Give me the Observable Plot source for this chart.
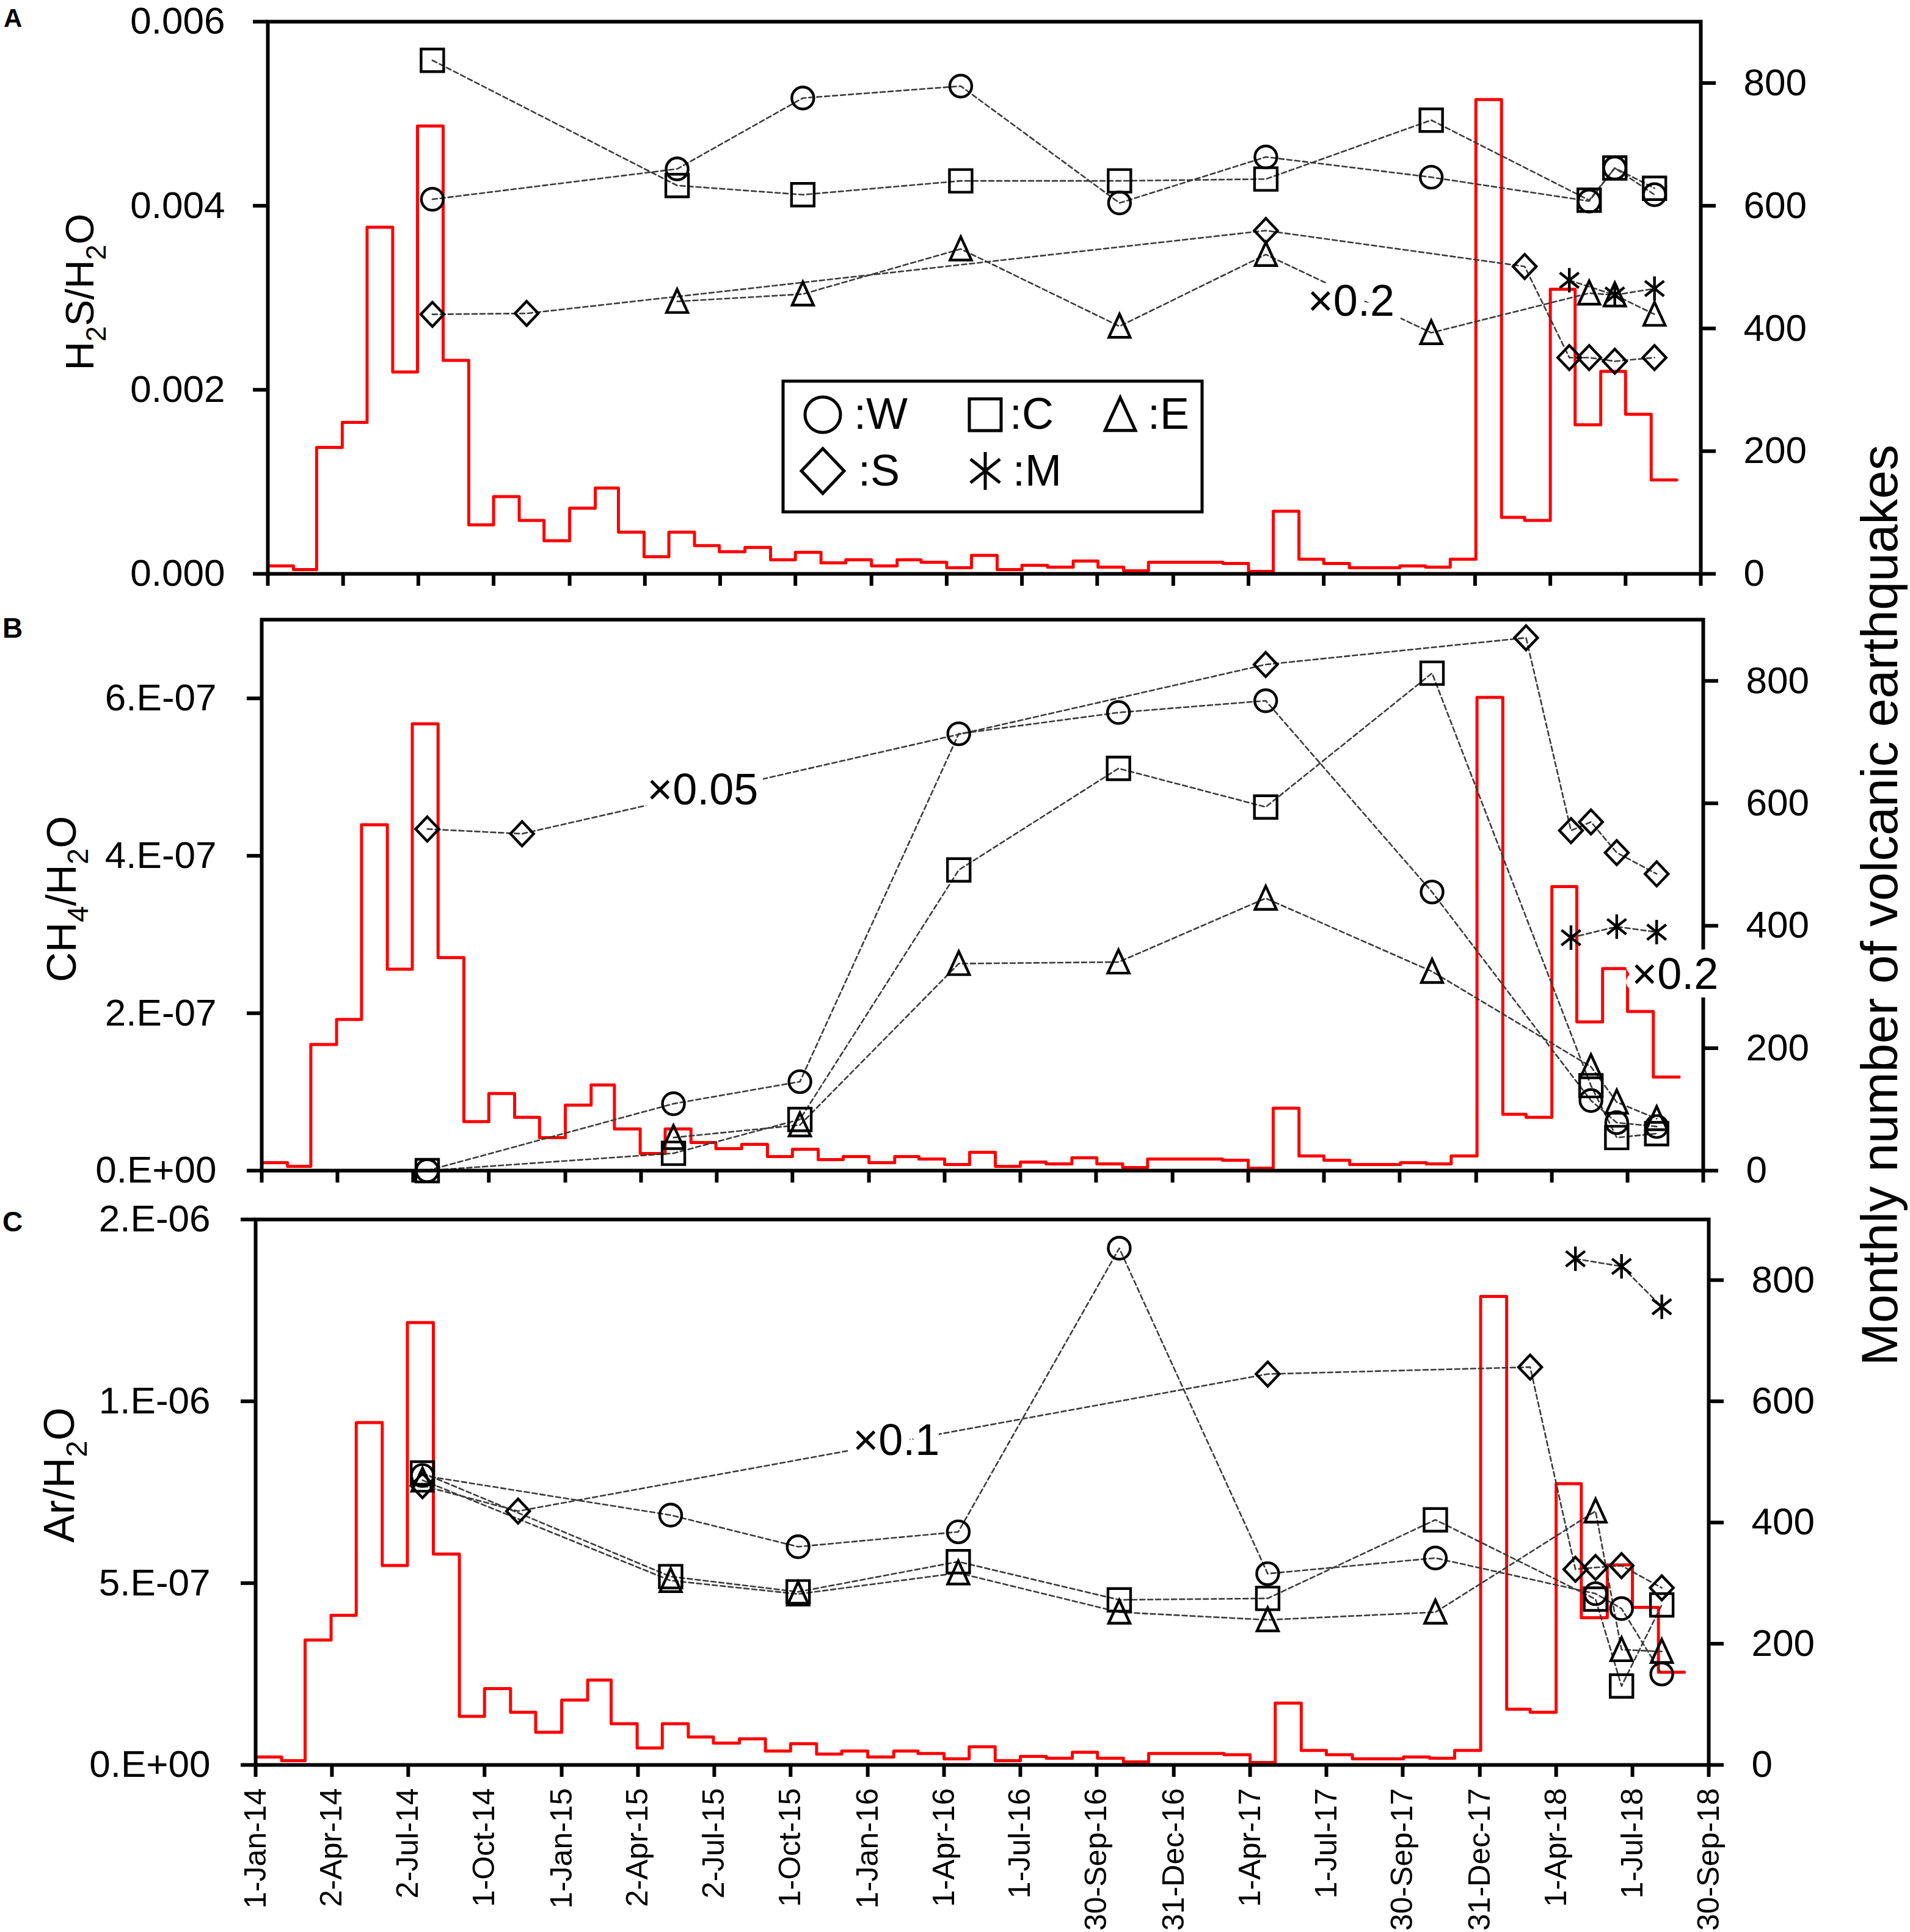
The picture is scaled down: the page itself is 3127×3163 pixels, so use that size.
<!DOCTYPE html>
<html><head><meta charset="utf-8">
<script src="https://cdn.jsdelivr.net/npm/d3@7"></script>
<script src="https://cdn.jsdelivr.net/npm/@observablehq/plot@0.6"></script>
<style>
html,body{margin:0;padding:0;background:#fff;}
#page{position:relative;width:3127px;height:3163px;background:#fff;overflow:hidden;}
#page > svg{position:absolute;left:0;}
</style></head><body><div id="page"></div>
<script>
// ---------- DATA ----------
const sampleDates = ["2014-07-19","2014-11-10","2015-05-11","2015-10-10","2016-04-18","2016-10-27","2017-04-22","2017-11-08","2018-03-01","2018-04-24","2018-05-18","2018-06-18","2018-08-05"];

const h2sW = [0.00407, null, 0.00440, 0.00517, 0.00530, 0.00403, 0.00453, 0.00431, null, null, 0.00405, 0.00441, 0.00412];
const h2sC = [0.00558, null, 0.00422, 0.00412, 0.00427, 0.00427, 0.00429, 0.00493, null, null, 0.00406, 0.00441, 0.00419];
const h2sE = [null, null, 0.00296, 0.00304, 0.00353, 0.00269, 0.00347, 0.00262, null, null, 0.00305, 0.00303, 0.00282];
const h2sS = [0.00282, 0.00283, null, null, null, null, 0.00373, null, 0.00334, 0.00235, 0.00235, 0.00231, 0.00235];
const h2sM = [null, null, null, null, null, null, null, null, null, 0.00319, null, 0.00303, 0.00310];

const ch4W = [0, null, 0.85e-7, 1.13e-7, 5.55e-7, 5.82e-7, 5.97e-7, 3.54e-7, null, null, 0.89e-7, 0.61e-7, 0.56e-7];
const ch4C = [0, null, 0.22e-7, 0.65e-7, 3.82e-7, 5.11e-7, 4.62e-7, 6.32e-7, null, null, 1.08e-7, 0.42e-7, 0.47e-7];
const ch4E = [null, null, 0.42e-7, 0.58e-7, 2.63e-7, 2.65e-7, 3.46e-7, 2.53e-7, null, null, 1.32e-7, 0.87e-7, 0.66e-7];
const ch4S = [4.34e-7, 4.28e-7, null, null, null, null, 6.43e-7, null, 6.77e-7, 4.32e-7, 4.43e-7, 4.04e-7, 3.77e-7];
const ch4M = [null, null, null, null, null, null, null, null, null, 2.96e-7, null, 3.10e-7, 3.03e-7];

const arW = [7.96e-7, null, 6.87e-7, 6.00e-7, 6.41e-7, 1.421e-6, 5.26e-7, 5.69e-7, null, null, 4.71e-7, 4.30e-7, 2.50e-7];
const arC = [8.03e-7, null, 5.18e-7, 4.76e-7, 5.59e-7, 4.54e-7, 4.58e-7, 6.74e-7, null, null, 4.56e-7, 2.17e-7, 4.40e-7];
const arE = [7.83e-7, null, 5.07e-7, 4.70e-7, 5.28e-7, 4.20e-7, 3.99e-7, 4.20e-7, null, null, 6.98e-7, 3.17e-7, 3.12e-7];
const arS = [7.68e-7, 6.98e-7, null, null, null, null, 1.075e-6, null, 1.094e-6, 5.38e-7, 5.43e-7, 5.48e-7, 4.87e-7];
const arM = [null, null, null, null, null, null, null, null, null, 1.392e-6, null, 1.371e-6, 1.26e-6];

// monthly number of volcanic earthquakes, Jan 2014 .. Aug 2018
const quakeStart = "2014-01-01";
const quakeCounts = [
  13, 7, 206, 247, 565, 329, 730, 348, 80, 126, 87, 54,
  107, 140, 68, 28, 68, 46, 36, 43, 23, 35, 18, 23,
  13, 23, 19, 10, 30, 7, 14, 11, 21, 11, 5, 19,
  19, 19, 17, 4, 102, 24, 17, 10, 10, 13, 11, 24,
  773, 92, 87, 464, 243, 330, 260, 153
];
const quakeMax = 900;
const quakeTicks = [0, 200, 400, 600, 800];

const xStart = "2014-01-01";
const xEnd = "2018-09-30";
const tickDates = ["2014-01-01","2014-04-02","2014-07-02","2014-10-01","2015-01-01","2015-04-02","2015-07-02","2015-10-01","2016-01-01","2016-04-01","2016-07-01","2016-09-30","2016-12-31","2017-04-01","2017-07-01","2017-09-30","2017-12-31","2018-04-01","2018-07-01","2018-09-30"];
const tickLabels = ["1-Jan-14","2-Apr-14","2-Jul-14","1-Oct-14","1-Jan-15","2-Apr-15","2-Jul-15","1-Oct-15","1-Jan-16","1-Apr-16","1-Jul-16","30-Sep-16","31-Dec-16","1-Apr-17","1-Jul-17","30-Sep-17","31-Dec-17","1-Apr-18","1-Jul-18","30-Sep-18"];

const yTicksA = [0, 0.002, 0.004, 0.006];
const yLabelsA = ["0.000", "0.002", "0.004", "0.006"];
const yTicksB = [0, 2e-7, 4e-7, 6e-7];
const yLabelsB = ["0.E+00", "2.E-07", "4.E-07", "6.E-07"];
const yTicksC = [0, 5e-7, 1e-6, 1.5e-6];
const yLabelsC = ["0.E+00", "5.E-07", "1.E-06", "2.E-06"];

const notesA = [{date: "2017-08-03", value: 0.00296, text: "×0.2"}];
const notesB = [{date: "2015-06-15", value: 4.83e-7, text: "×0.05"}, {date: "2018-08-27", value: 2.49e-7, text: "×0.2"}];
const notesC = [{date: "2016-02-04", value: 8.92e-7, text: "×0.1"}];

const titleA = [["H",0],["2",1],["S/H",0],["2",1],["O",0]];
const titleB = [["CH",0],["4",1],["/H",0],["2",1],["O",0]];
const titleC = [["Ar/H",0],["2",1],["O",0]];
const rightTitle = "Monthly number of volcanic earthquakes";
const legendItems = [["W","circle"],["C","square"],["E","triangle"],["S","diamond"],["M","asterisk"]];

// ---------- SYMBOLS ----------
const rOf = size => Math.sqrt(size / Math.PI);
const symbols = {
  circle: {draw(c, s){const r=rOf(s); c.moveTo(r,0); c.arc(0,0,r,0,2*Math.PI); c.closePath();}},
  square: {draw(c, s){const r=rOf(s); c.rect(-r,-r,2*r,2*r);}},
  triangle: {draw(c, s){const r=rOf(s); c.moveTo(0,-1.05*r); c.lineTo(0.92*r,0.95*r); c.lineTo(-0.92*r,0.95*r); c.closePath();}},
  diamond: {draw(c, s){const r=rOf(s); c.moveTo(0,-1.05*r); c.lineTo(r,0); c.lineTo(0,1.05*r); c.lineTo(-r,0); c.closePath();}},
  asterisk: {draw(c, s){const r=rOf(s); c.moveTo(0,-r); c.lineTo(0,r); c.moveTo(-0.78*r,-0.62*r); c.lineTo(0.78*r,0.62*r); c.moveTo(-0.78*r,0.62*r); c.lineTo(0.78*r,-0.62*r);}}
};
const symSize = {circle: 18, square: 18.5, triangle: 19, diamond: 19, asterisk: 20};

// ---------- DRAW ----------
const FONT = '"Liberation Sans", Arial, Helvetica, sans-serif';
const W = 3127;
const page = document.getElementById("page");
const parse = s => new Date(s + "T00:00:00Z");
const dates = sampleDates.map(parse);
const t0 = parse(quakeStart);
const quakeData = quakeCounts.map((v, i) => ({date: new Date(Date.UTC(t0.getUTCFullYear(), t0.getUTCMonth() + i, 1)), count: v}));
quakeData.push({date: new Date(Date.UTC(t0.getUTCFullYear(), t0.getUTCMonth() + quakeCounts.length, 1)), count: quakeCounts[quakeCounts.length - 1]});
const tickDateObjs = tickDates.map(parse);

function panel(cfg) {
  const k = cfg.yMax / quakeMax;
  const marks = [];
  marks.push(Plot.line(quakeData, {x: "date", y: d => d.count * k, curve: "step-after", stroke: "#ff0000", strokeWidth: 5}));
  const sets = cfg.series.map(([vals, sym]) => ({sym, data: dates.map((d, i) => ({date: d, value: vals[i]})).filter(d => d.value != null)}));
  for (const s of sets) marks.push(Plot.line(s.data, {x: "date", y: "value", stroke: "#3a3a3a", strokeWidth: 2.6, strokeDasharray: "8,5"}));
  for (const s of sets) marks.push(Plot.dot(s.data, {x: "date", y: "value", symbol: symbols[s.sym], r: symSize[s.sym], stroke: "#000", strokeWidth: 4.4, fill: "none"}));
  marks.push(Plot.frame({stroke: "#000", strokeWidth: 6}));
  marks.push(Plot.axisY({ticks: cfg.yTicks, anchor: "left", tickSize: 24, tickPadding: cfg.padL, strokeWidth: 6, fontSize: 62, label: null,
    tickFormat: d => cfg.yLabels[cfg.yTicks.indexOf(d)]}));
  marks.push(Plot.axisY({ticks: quakeTicks.map(v => v * k), anchor: "right", tickSize: 24, tickPadding: 46, strokeWidth: 6, fontSize: 62, label: null,
    tickFormat: d => String(Math.round(d / k))}));
  marks.push(Plot.axisX({ticks: tickDateObjs, anchor: "bottom", tickSize: 20, tickPadding: 18, strokeWidth: 6, fontSize: 50, label: null, tickRotate: -90,
    tickFormat: cfg.showDates ? (d => tickLabels[tickDateObjs.findIndex(t => +t === +d)]) : (() => "")}));
  marks.push(Plot.text(cfg.notes.map(n => ({...n, d: parse(n.date)})), {x: "d", y: "value", text: "text", fontSize: 72, fill: "#000", stroke: "#fff", strokeWidth: 28, paintOrder: "stroke"}));
  const svg = Plot.plot({
    width: W, height: cfg.height,
    marginTop: cfg.mt, marginBottom: cfg.mb, marginLeft: cfg.ml, marginRight: W - cfg.right,
    x: {type: "utc", domain: [parse(xStart), parse(xEnd)]},
    y: {domain: [0, cfg.yMax]},
    style: {fontFamily: FONT, fontSize: "62px", color: "#000", background: "transparent", overflow: "visible"},
    marks
  });
  svg.style.position = "absolute";
  svg.style.top = cfg.top + "px";
  svg.style.left = "0px";
  svg.style.maxWidth = "none";
  page.appendChild(svg);
}

panel({top: 0, height: 980, mt: 35, mb: 41, ml: 438, right: 2784, yMax: 0.006, yTicks: yTicksA, yLabels: yLabelsA, padL: 46, showDates: false,
  series: [[h2sW,"circle"],[h2sC,"square"],[h2sE,"triangle"],[h2sS,"diamond"],[h2sM,"asterisk"]], notes: notesA});
panel({top: 980, height: 980, mt: 34, mb: 44, ml: 428, right: 2788, yMax: 7e-7, yTicks: yTicksB, yLabels: yLabelsB, padL: 50, showDates: false,
  series: [[ch4W,"circle"],[ch4C,"square"],[ch4E,"triangle"],[ch4S,"diamond"],[ch4M,"asterisk"]], notes: notesB});
panel({top: 1960, height: 1203, mt: 36, mb: 274, ml: 418, right: 2797, yMax: 1.5e-6, yTicks: yTicksC, yLabels: yLabelsC, padL: 50, showDates: true,
  series: [[arW,"circle"],[arC,"square"],[arE,"triangle"],[arS,"diamond"],[arM,"asterisk"]], notes: notesC});

// ---------- OVERLAY: titles, letters, legend ----------
const ov = d3.create("svg").attr("width", W).attr("height", 3163).style("position", "absolute").style("top", "0px").style("left", "0px")
  .attr("font-family", FONT).attr("fill", "#000");

function rotTitle(parts, bx, cy, fs) {
  const t = ov.append("text").attr("transform", `translate(${bx},${cy}) rotate(-90)`).attr("text-anchor", "middle").attr("font-size", fs);
  let sub = false;
  for (const [str, isSub] of parts) {
    const ts = t.append("tspan").text(str);
    if (isSub) ts.attr("font-size", 0.7 * fs);
    if (isSub && !sub) ts.attr("dy", 0.3 * fs);
    if (!isSub && sub) ts.attr("dy", -0.3 * fs);
    sub = !!isSub;
  }
}
rotTitle(titleA, 153, 478, 65);
rotTitle(titleB, 124, 1472, 68);
rotTitle(titleC, 121, 2415, 70);
ov.append("text").attr("transform", "translate(3106,1482) rotate(-90)").attr("text-anchor", "middle").attr("font-size", 84).text(rightTitle);

ov.append("text").attr("x", 6).attr("y", 44).attr("font-size", 42).attr("font-weight", "bold").text("A");
ov.append("text").attr("x", 4).attr("y", 1044).attr("font-size", 46).attr("font-weight", "bold").text("B");
ov.append("text").attr("x", 4).attr("y", 2016).attr("font-size", 46).attr("font-weight", "bold").text("C");

// legend (inside panel A)
const lg = ov.append("g");
lg.append("rect").attr("x", 1282).attr("y", 624).attr("width", 686).attr("height", 214).attr("fill", "#fff").attr("stroke", "#000").attr("stroke-width", 5);
const legendPos = [[1347, 679, 1398, 702, 29], [1613, 679, 1653, 702, 26], [1834, 679, 1879, 702, 27], [1347, 771, 1405, 795, 35], [1613, 771, 1658, 795, 31]];
legendItems.forEach(([name, sym], i) => {
  const [cx, cy, tx, ty, r] = legendPos[i];
  lg.append("path").attr("d", d3.symbol(symbols[sym], Math.PI * r * r)()).attr("transform", `translate(${cx},${cy})`)
    .attr("fill", "none").attr("stroke", "#000").attr("stroke-width", 5);
  lg.append("text").attr("x", tx).attr("y", ty).attr("font-size", 72).text(":" + name);
});
page.appendChild(ov.node());
</script>
</body></html>
